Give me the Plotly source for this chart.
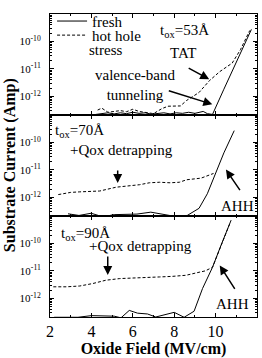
import plotly.graph_objects as go
from plotly.subplots import make_subplots

# ---- data (current given as log10 of Amp) ----
fresh53_x = [4.2, 4.5, 4.8, 5.1, 5.4, 5.7, 6.0, 6.3, 6.6, 6.9, 7.2, 7.5, 7.8, 8.1, 8.4, 8.7, 9.0, 9.4, 9.6, 9.85, 10.4, 11.0, 11.73]
fresh53_exp = [-12.66, -12.62, -12.6, -12.64, -12.6, -12.63, -12.58, -12.62, -12.6, -12.65, -12.62, -12.6, -12.64, -12.6, -12.62, -12.58, -12.62, -12.55, -12.63, -12.66, -11.74, -10.76, -9.56]
stress53_x = [4.3, 4.5, 4.8, 5.1, 5.4, 5.7, 6.0, 6.3, 6.6, 7.0, 7.4, 7.7, 8.3, 8.6, 9.2, 9.7, 10.2, 10.8, 11.2, 11.65]
stress53_exp = [-12.5, -12.43, -12.58, -12.55, -12.52, -12.56, -12.47, -12.55, -12.58, -12.63, -12.45, -12.36, -12.35, -12.15, -11.86, -11.43, -11.1, -10.79, -10.3, -9.6]

fresh70_x = [2.87, 3.4, 3.99, 4.55, 5.1, 5.6, 6.2, 6.87, 7.4, 8.0, 8.63, 9.2, 9.6, 10.0, 10.4, 10.9]
fresh70_exp = [-12.6, -12.66, -12.58, -12.71, -12.63, -12.62, -12.61, -12.54, -12.6, -12.69, -12.66, -12.4, -11.87, -11.09, -10.38, -9.57]
stress70_x = [2.4, 3.0, 3.44, 4.0, 4.4, 5.2, 5.8, 6.33, 6.8, 7.3, 7.8, 8.25, 8.6, 8.9, 9.3, 9.9]
stress70_exp = [-11.9, -11.82, -11.8, -11.79, -11.77, -11.63, -11.58, -11.54, -11.47, -11.45, -11.47, -11.45, -11.36, -11.33, -11.3, -11.13]

fresh90_x = [2.2, 3.35, 4.0, 5.1, 5.43, 5.83, 6.23, 6.71, 7.11, 8.0, 8.48, 8.96, 9.37, 9.85, 10.25, 10.75]
fresh90_exp = [-12.69, -12.69, -12.63, -12.65, -12.71, -12.44, -12.54, -12.57, -12.68, -12.51, -12.69, -12.47, -11.64, -10.87, -10.09, -9.15]
stress90_x = [2.16, 2.8, 3.44, 4.07, 4.7, 5.37, 6.0, 6.6, 7.3, 7.9, 8.57, 9.2, 9.5, 9.85, 10.25, 10.7]
stress90_exp = [-11.58, -11.58, -11.55, -11.46, -11.34, -11.28, -11.26, -11.25, -11.22, -11.2, -11.16, -11.05, -11.0, -10.87, -10.09, -9.25]

y_tickvals = [1e-12, 1e-11, 1e-10]
y_ticktext = ["10<sup>-12</sup>", "10<sup>-11</sup>", "10<sup>-10</sup>"]
x_tickvals = [2, 4, 6, 8, 10, 12]

FONT = "Liberation Serif"

def amp(exps):
    return [10 ** e for e in exps]

fig = make_subplots(rows=3, cols=1, shared_xaxes=True, vertical_spacing=0)

panels = [
    (fresh53_x, fresh53_exp, stress53_x, stress53_exp),
    (fresh70_x, fresh70_exp, stress70_x, stress70_exp),
    (fresh90_x, fresh90_exp, stress90_x, stress90_exp),
]
for i, (fx, fy, sx, sy) in enumerate(panels, start=1):
    fig.add_trace(go.Scatter(x=fx, y=amp(fy), mode="lines", name="fresh",
                             line=dict(color="black", width=1),
                             legend="legend", showlegend=(i == 1)), row=i, col=1)
    fig.add_trace(go.Scatter(x=sx, y=amp(sy), mode="lines", name="hot hole",
                             line=dict(color="black", width=1, dash="3px,2px"),
                             legend="legend2", showlegend=(i == 1)), row=i, col=1)

minor_vals = []
for d in range(-13, -8):
    for m in range(2, 10):
        minor_vals.append(m * 10 ** d)

for i in range(1, 4):
    fig.update_yaxes(type="log", range=[-12.68, -9.0],
                     tickvals=y_tickvals, ticktext=y_ticktext,
                     ticks="inside", ticklen=4, tickcolor="black",
                     minor=dict(tickvals=minor_vals, ticks="inside", ticklen=2, tickcolor="black"),
                     showline=True, linecolor="black", linewidth=1, mirror="ticks",
                     showgrid=False, zeroline=False,
                     tickfont=dict(family=FONT, size=11, color="black"),
                     ticklabelstandoff=6,
                     row=i, col=1)
    fig.update_xaxes(range=[2, 12], tickvals=x_tickvals,
                     ticks="inside", ticklen=4, tickcolor="black",
                     minor=dict(dtick=1, ticks="inside", ticklen=2, tickcolor="black"),
                     showline=True, linecolor="black", linewidth=1, mirror="ticks",
                     showgrid=False, zeroline=False,
                     tickfont=dict(family=FONT, size=16, color="black"),
                     row=i, col=1)

fig.update_xaxes(title=dict(text="<b>Oxide Field (MV/cm)</b>", standoff=2,
                            font=dict(family=FONT, size=16, color="black")), row=3, col=1)

ann_font = dict(family=FONT, size=15, color="black")
annotations = [
    dict(xref="x", yref="y", x=8.49, y=-9.61, text="t<sub>ox</sub>=53Å", showarrow=False),
    dict(xref="x", yref="y", x=8.44, y=-10.43, text="TAT", showarrow=False),
    dict(xref="x", yref="y", x=9.69, y=-11.38, text="", showarrow=True, ax=-22, ay=-12),
    dict(xref="x", yref="y", x=6.09, y=-11.57, text="valence-band<br>tunneling", showarrow=False),
    dict(xref="x", yref="y", x=9.84, y=-12.29, text="", showarrow=True, ax=-45, ay=-14),
    dict(xref="x2", yref="y2", x=3.44, y=-9.57, text="t<sub>ox</sub>=70Å", showarrow=False),
    dict(xref="x2", yref="y2", x=5.46, y=-10.29, text="+Qox detrapping", showarrow=False),
    dict(xref="x2", yref="y2", x=5.27, y=-11.48, text="", showarrow=True, ax=0, ay=-14),
    dict(xref="x2", yref="y2", x=11.04, y=-12.3, text="AHH", showarrow=False),
    dict(xref="x2", yref="y2", x=10.5, y=-10.99, text="", showarrow=True, ax=15, ay=22),
    dict(xref="x3", yref="y3", x=3.73, y=-9.65, text="t<sub>ox</sub>=90Å", showarrow=False),
    dict(xref="x3", yref="y3", x=6.38, y=-10.08, text="+Qox detrapping", showarrow=False),
    dict(xref="x3", yref="y3", x=4.79, y=-11.15, text="", showarrow=True, ax=0, ay=-20),
    dict(xref="x3", yref="y3", x=10.8, y=-12.19, text="AHH", showarrow=False),
    dict(xref="x3", yref="y3", x=10.2, y=-10.8, text="", showarrow=True, ax=16, ay=25),
]
for a in annotations:
    a["font"] = ann_font
    if a["showarrow"]:
        a.update(arrowhead=2, arrowsize=1.2, arrowwidth=1.5, arrowcolor="black", axref="pixel", ayref="pixel")
    fig.add_annotation(**a)

# second line of the "hot hole stress" legend label
fig.add_annotation(xref="paper", yref="paper", x=0.18, y=1 - (42.5 - 5) / 312, xanchor="left", yanchor="middle",
                   text="stress", showarrow=False, font=ann_font)

fig.add_annotation(xref="paper", yref="paper", x=-0.195, y=0.5, xanchor="center", yanchor="middle",
                   text="<b>Substrate Current (Amp)</b>", textangle=-90, showarrow=False,
                   font=dict(family=FONT, size=16, color="black"))

leg_common = dict(xanchor="left", yanchor="middle", bgcolor="rgba(0,0,0,0)",
                  font=dict(family=FONT, size=15, color="black"),
                  itemwidth=30, valign="middle", tracegroupgap=0)
fig.update_layout(
    width=262, height=358,
    margin=dict(l=50, r=5, t=5, b=41),
    paper_bgcolor="white", plot_bgcolor="white",
    font=dict(family=FONT, color="black"),
    legend=dict(x=0.01, y=1 - (12.5 - 5) / 312, **leg_common),
    legend2=dict(x=0.01, y=1 - (27 - 5) / 312, **leg_common),
    showlegend=True,
)

fig.write_html("out.html")
